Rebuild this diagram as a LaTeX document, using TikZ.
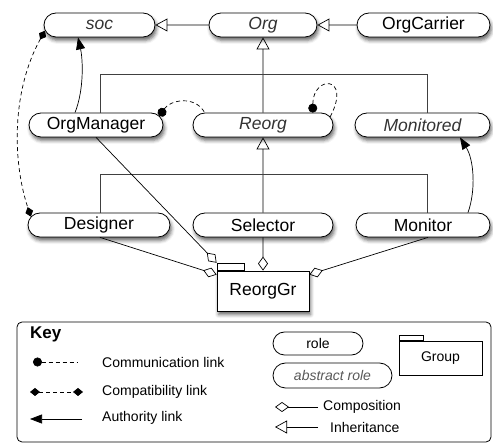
\documentclass[tikz,border=0pt]{standalone}
\usepackage{fontspec}
\setmainfont{Liberation Sans}
\usetikzlibrary{arrows.meta, shapes.misc, shadows.blur}

\newcommand\rlfont{\fontsize{17.5}{20}\selectfont}
\newcommand\kyfont{\fontsize{14}{16}\selectfont}

\begin{document}
\begin{tikzpicture}[x=1pt, y=-1pt,
  rolebox/.style={rounded rectangle, draw, line width=0.8pt, fill=white,
    minimum height=24pt, inner sep=0pt, font=\rlfont},
  absrole/.style={rolebox, font=\rlfont\itshape, text=black!80},
  shade/.style={blur shadow={shadow xshift=1.5pt, shadow yshift=-3.5pt,
    shadow blur radius=3.5pt, shadow opacity=60}},
  grp/.style={draw, line width=0.8pt, fill=white, inner sep=0pt},
  link/.style={line width=0.7pt},
  inh/.style={link, -{Triangle[open, length=12pt, width=13pt]}},
  comp/.style={link, -{Diamond[open, length=14pt, width=10pt]}},
  auth/.style={link, -{Triangle[length=12pt, width=9pt]}},
  commun/.style={link, dash pattern=on 4pt off 3pt, {Circle[length=9pt]}-},
  compat/.style={link, dash pattern=on 4pt off 3pt,
    {Diamond[length=10pt, width=8pt]}-{Diamond[length=10pt, width=8pt]}},
  bracket/.style={line width=0.7pt, draw=black!75},
  keytext/.style={font=\kyfont, anchor=west, inner sep=0pt}
]
\useasboundingbox (0,0) rectangle (493,443);

% roles
\node[absrole, shade, minimum width=111pt] (soc) at (99.5,25) {soc};
\node[absrole, shade, minimum width=108pt] (org) at (263,25) {Org};
\node[rolebox, shade, minimum width=133pt] (orgcarrier) at (423.5,25) {OrgCarrier};
\node[rolebox, shade, minimum width=134pt] (orgmanager) at (96,125) {OrgManager};
\node[absrole, shade, minimum width=140pt] (reorg) at (263,125) {Reorg};
\node[absrole, shade, minimum width=135pt] (monitored) at (422.5,125) {Monitored};
\node[rolebox, shade, minimum width=142pt] (designer) at (99,225) {Designer};
\node[rolebox, shade, minimum width=140pt] (selector) at (263,225) {Selector};
\node[rolebox, shade, minimum width=134pt] (monitor) at (423,225) {Monitor};

% group
\node[grp, shade, minimum width=92pt, minimum height=40pt, font=\rlfont] (reorggr) at (263,291) {ReorgGr};
\node[grp, minimum width=27pt, minimum height=7pt, anchor=south west] (reorgtab) at (reorggr.north west) {};

% inheritance
\draw[inh] (orgcarrier) -- (org);
\draw[inh] (org) -- (soc);
\draw[inh] (reorg) -- (org);
\draw[inh] (selector) -- (reorg);
\draw[bracket] ([xshift=4pt]orgmanager.north) -- ++(0,-38) -| ([xshift=4.5pt]monitored.north);
\draw[bracket] ([xshift=1pt]designer.north) -- ++(0,-38) -| ([xshift=4pt]monitor.north);

% authority
\draw[auth] ([xshift=-21pt]orgmanager.north) .. controls (84,90) and (83,60) .. ([xshift=-21.5pt]soc.south);
\draw[auth] ([xshift=45pt]monitor.north) .. controls (476,190) and (474,160) .. ([xshift=37.5pt]monitored.south);

% communication
\draw[commun] (orgmanager.8) .. controls (170,100) and (195,95) .. (reorg.168);
\draw[commun] (reorg.14) .. controls (313,75) and (352,75) .. (reorg.7);

% compatibility
\draw[compat] (soc.186) .. controls (12,90) and (12,160) .. (designer.173);

% composition
\draw[comp] (orgmanager.south) -- (reorgtab.north west);
\draw[comp] ([xshift=1pt]designer.south) -- ([yshift=-4pt]reorggr.north west);
\draw[comp] (selector) -- (reorggr);
\draw[comp] ([xshift=5pt]monitor.south) -- ([yshift=-4pt]reorggr.north east);

% key
\node[draw, line width=0.8pt, rounded corners=5pt, minimum width=474pt,
  minimum height=120pt, inner sep=0pt] (keybox) at (254,382) {};
\node[font=\fontsize{17}{20}\selectfont\bfseries, anchor=west, inner sep=0pt] (keytitle) at (30,334) {Key};

\coordinate (cma) at (33,362);  \coordinate (cmb) at (78,362);
\coordinate (cpa) at (30,392);  \coordinate (cpb) at (83,392);
\coordinate (aua) at (82,419);  \coordinate (aub) at (30,419);
\draw[commun] (cma) -- (cmb);
\draw[compat] (cpa) -- (cpb);
\draw[auth] (aua) -- (aub);
\node[keytext] (tcomm) at (102,362) {Communication link};
\node[keytext] (tcompat) at (102,392) {Compatibility link};
\node[keytext] (tauth) at (102,418) {Authority link};

\node[rolebox, font=\kyfont, minimum width=90pt, minimum height=23pt] (krole) at (318,343.5) {role};
\node[absrole, font=\kyfont\itshape, text=black!65, minimum width=119pt, minimum height=25pt] (kabs) at (332.5,375.5) {abstract role};

\coordinate (coa) at (318,407); \coordinate (cob) at (275,407);
\coordinate (ina) at (318,427); \coordinate (inb) at (275,427);
\draw[comp] (coa) -- (cob);
\draw[inh] (ina) -- (inb);
\node[keytext] (tcompo) at (323,407) {Composition};
\node[keytext] (tinh) at (330,427) {Inheritance};

\node[grp, minimum width=83pt, minimum height=34pt, font=\kyfont] (kgroup) at (440.5,358) {Group};
\node[grp, minimum width=24pt, minimum height=5pt, anchor=south west] (kgrouptab) at (kgroup.north west) {};
\end{tikzpicture}
\end{document}
